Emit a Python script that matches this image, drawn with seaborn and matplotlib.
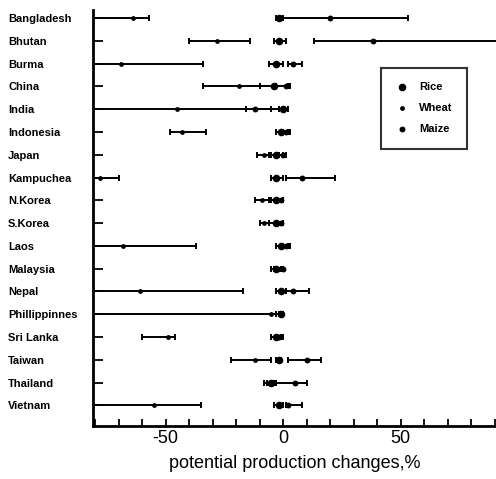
import numpy as np
import pandas as pd
import matplotlib
matplotlib.use("Agg")
import matplotlib.pyplot as plt
import seaborn as sns

countries = ["Bangladesh", "Bhutan", "Burma", "China", "India", "Indonesia",
             "Japan", "Kampuchea", "N.Korea", "S.Korea", "Laos", "Malaysia",
             "Nepal", "Phillippinnes", "Sri Lanka", "Taiwan", "Thailand", "Vietnam"]

rice_lo  = [-3, -4, -6, -10, -2, -3, -6, -5, -6, -6, -3, -5, -3, -3, -5, -3, -7, -4]
rice_mid = [-2, -2, -3, -4, 0, -1, -3, -3, -3, -3, -1, -3, -1, -1, -3, -2, -5, -2]
rice_hi  = [0, 1, 0, 2, 2, 2, 0, 0, 0, 0, 2, 0, 1, 0, -1, -1, -3, 0]

wheat_lo  = [-81, -40, -81, -34, -81, -48, -11, -81, -12, -10, -81, -4, -81, -81, -60, -22, -8, -81]
wheat_mid = [-64, -28, -69, -19, -45, -43, -8, -78, -9, -8, -68, -2, -61, -5, -49, -12, -6, -55]
wheat_hi  = [-57, -14, -34, 3, -2, -33, -5, -70, -5, -6, -37, 0, -17, -3, -46, -5, -4, -35]

maize_lo  = [0, 13, 2, -3, -16, 0, -2, 1, -3, -3, 0, -1, 1, -2, -3, 2, -3, 1]
maize_mid = [20, 38, 4, 1, -12, 1, 0, 8, -1, -1, 1, 0, 4, -1, -2, 10, 5, 2]
maize_hi  = [53, 100, 8, 3, -5, 3, 1, 22, 0, 0, 3, 0, 11, 0, 0, 16, 10, 8]

crops = ["Rice", "Wheat", "Maize"]

rows = []
for crop, lo, mid, hi in [("Rice", rice_lo, rice_mid, rice_hi),
                          ("Wheat", wheat_lo, wheat_mid, wheat_hi),
                          ("Maize", maize_lo, maize_mid, maize_hi)]:
    for c, a, m, b in zip(countries, lo, mid, hi):
        rows.append({"country": c, "crop": crop, "lo": a, "mid": m, "hi": b})
df = pd.DataFrame(rows)
df["ypos"] = df["country"].map({c: i for i, c in enumerate(countries)})

sns.set_style("ticks")
plt.rcParams["font.family"] = ["Liberation Sans", "DejaVu Sans"]
plt.rcParams["text.color"] = "black"
plt.rcParams["axes.labelcolor"] = "black"
plt.rcParams["xtick.color"] = "black"
plt.rcParams["ytick.color"] = "black"

fig = plt.figure(figsize=(4.96, 4.79), dpi=100)
ax = fig.add_axes([0.187, 0.111, 0.813, 0.868])

msize = {"Rice": 30, "Wheat": 12, "Maize": 18}
for crop in crops:
    sub = df[df["crop"] == crop]
    ax.errorbar(sub["mid"], sub["ypos"],
                xerr=[sub["mid"] - sub["lo"], sub["hi"] - sub["mid"]],
                fmt="none", ecolor="black", elinewidth=1.4, capsize=2.5,
                capthick=1.4, zorder=2)
    sns.scatterplot(data=sub, x="mid", y="ypos", color="black",
                    s=msize[crop], edgecolor="black", linewidth=0,
                    ax=ax, label=crop, zorder=3)

ax.set_xlim(-81, 90.5)
ax.set_ylim(17.9, -0.35)
ax.set_yticks(range(len(countries)))
ax.set_yticklabels(countries, fontsize=8, fontweight="bold", ha="left")
xt = np.arange(-80, 91, 10)
ax.set_xticks(xt)
ax.set_xticklabels([str(v) if v % 50 == 0 else "" for v in xt], fontsize=13)
ax.tick_params(axis="x", direction="in", length=5, width=1.3, pad=3)
ax.tick_params(axis="y", direction="in", length=7, width=1.3, pad=61)
ax.set_xlabel("potential production changes,%", fontsize=13, labelpad=6)
ax.set_ylabel("")
sns.despine(ax=ax)
for s in ["left", "bottom"]:
    ax.spines[s].set_linewidth(2)
    ax.spines[s].set_color("black")

leg = ax.legend(loc="upper left", bbox_to_anchor=(0.70, 0.875),
                frameon=True, fancybox=False, edgecolor="black",
                prop={"weight": "bold", "size": 8}, handletextpad=1.0,
                handlelength=1.2, borderpad=1.3, labelspacing=1.0,
                markerscale=1.0)
leg.get_frame().set_linewidth(1.5)

fig.savefig("out.png", dpi=100)
